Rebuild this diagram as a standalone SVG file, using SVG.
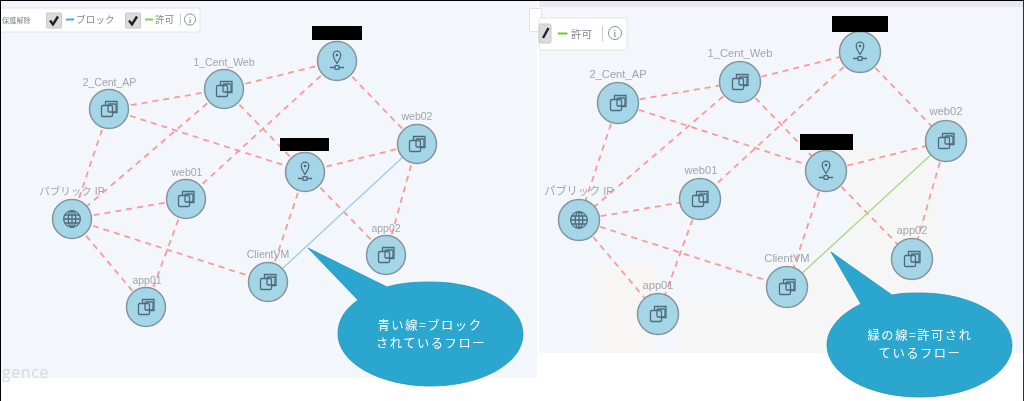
<svg xmlns="http://www.w3.org/2000/svg" width="1024" height="401" viewBox="0 0 1024 401">
<style>
.bg{fill:#f3f6fb}
.e{stroke:#fb9a98;stroke-width:1.8;stroke-dasharray:6 5;fill:none}
.n{fill:#a5d6e7;stroke:#87949c;stroke-width:1.5}
.i{fill:none;stroke:#4f6b7c;stroke-width:1.3}
.l{font-family:"Liberation Sans","Noto Sans CJK JP",sans-serif;fill:#a0a6ac;text-anchor:middle;font-size:10.5px}
.r{font-size:11.2px}
.t{font-family:"Noto Sans CJK JP","Noto Sans",sans-serif;fill:#808790;font-size:9.5px}
.c{font-family:"Noto Sans CJK JP",sans-serif;fill:#fff;text-anchor:middle;font-size:12.3px;letter-spacing:1.5px}
.call{fill:#29a6cf;stroke:#2a93b6;stroke-width:.8}
.lg{fill:#fff;stroke:#e0e4ea;stroke-width:1}
.cb{fill:#dcdcdc;stroke:#c8c8c8}
.ck{fill:none;stroke:#222;stroke-width:2.4}
.k{fill:#000}
</style>
<defs>
<filter id="soft" x="0" y="0" width="1024" height="401" filterUnits="userSpaceOnUse"><feGaussianBlur stdDeviation="0.45"/></filter>
<g id="vm" class="i"><path d="M-3.5 -4V-7.5H8V3.5H4"/><rect x="-1" y="-5" width="8" height="8" rx="1"/><rect x="-7.5" y="-3.5" width="11" height="11" rx="1.2"/></g>
<g id="pin" class="i"><path d="M0 2.5C-2 -1 -3.8 -3 -3.8 -6A3.8 3.8 0 0 1 3.8 -6C3.8 -3 2 -1 0 2.5Z"/><circle cx="0" cy="-6" r=".7"/><path d="M-7 6.5H-2M2 6.5H7"/><rect x="-2" y="4.7" width="4" height="3.6" rx=".6"/></g>
<g id="globe" class="i"><circle r="8.3"/><ellipse rx="3.8" ry="8.3"/><path d="M0 -8.3V8.3M-8.3 0H8.3M-7.3 -4H7.3M-7.3 4H7.3"/></g>
</defs>
<rect width="1024" height="401" fill="#fff"/>
<rect class="bg" x="1" y="1" width="536" height="377"/>
<rect class="bg" x="539" y="1" width="485" height="352"/>
<rect x="539" y="1" width="485" height="6" fill="#e6e9ee"/>
<g fill="#f6f6f7">
<rect x="847" y="150" width="94" height="110"/><rect x="781" y="260" width="150" height="93"/>
<rect x="680" y="300" width="110" height="53"/><rect x="593" y="265" width="62" height="88" fill="#f7f6f5"/>
</g>
<g filter="url(#soft)">
<text x="2" y="378" font-family="Open Sans,sans-serif" font-size="16" letter-spacing=".6" fill="#d5dae0">gence</text>

<g id="legend-left">
<rect class="lg" x="-4" y="8" width="204" height="24" rx="2"/>
<rect class="lg" x="529.500" y="8.500" width="12" height="23" rx="1"/>
<text class="t" x="2" y="22.500" style="font-size:7.200px">保護解除</text>
<rect class="cb" x="46.500" y="13" width="15" height="15" rx="1"/><path class="ck" d="M50 20.500l3 4 5-8"/>
<rect x="66" y="18.500" width="8" height="2" fill="#4da3dc"/>
<text class="t" x="76" y="23" letter-spacing=".2">ブロック</text>
<rect class="cb" x="125.500" y="13" width="15" height="15" rx="1"/><path class="ck" d="M129 20.500l3 4 5-8"/>
<rect x="145" y="18.500" width="8" height="2" fill="#7ed348"/>
<text class="t" x="155" y="23">許可</text>
<path d="M180.500 14V25" stroke="#c8cdd2"/>
<circle cx="190" cy="19.500" r="5.600" fill="none" stroke="#8a9096"/>
<text x="190" y="23" font-family="Liberation Serif,serif" font-size="9" fill="#70767c" text-anchor="middle">i</text>
</g>

<g id="connectors-left">
<path class="e" d="M109 109L224 89"/><path class="e" d="M109 109L305 172"/><path class="e" d="M109 109L72 219"/>
<path class="e" d="M224 89L337 61"/><path class="e" d="M224 89L72 219"/><path class="e" d="M224 89L305 172"/>
<path class="e" d="M337 61L186 199"/><path class="e" d="M337 61L417 144"/><path class="e" d="M305 172L417 144"/>
<path class="e" d="M305 172L268 282"/><path class="e" d="M305 172L386 255"/><path class="e" d="M417 144L386 255"/>
<path d="M417 144L268 282" stroke="#a3cde6" stroke-width="1.400" fill="none"/>
<path class="e" d="M72 219L186 199"/><path class="e" d="M72 219L268 282"/><path class="e" d="M72 219L146 307"/><path class="e" d="M186 199L146 307"/>
</g>
<g id="l-2cent"><circle class="n" cx="109" cy="109" r="19.500"/><use href="#vm" x="109" y="109"/><text class="l" x="109.500" y="86">2_Cent_AP</text></g>
<g id="l-1cent"><circle class="n" cx="224" cy="89" r="19.500"/><use href="#vm" x="224" y="89"/><text class="l" x="224" y="66">1_Cent_Web</text></g>
<g id="l-top"><circle class="n" cx="337" cy="61" r="19.500"/><use href="#pin" x="337" y="61"/></g>
<g id="l-web02"><circle class="n" cx="417" cy="144" r="19.500"/><use href="#vm" x="417" y="144"/><text class="l" x="417" y="120">web02</text></g>
<g id="l-mid"><circle class="n" cx="305" cy="172" r="19.500"/><use href="#pin" x="305" y="172"/></g>
<g id="l-public"><circle class="n" cx="72" cy="219" r="19.500"/><use href="#globe" x="72" y="219"/><text class="l" x="72" y="195">パブリック IP</text></g>
<g id="l-web01"><circle class="n" cx="186" cy="199" r="19.500"/><use href="#vm" x="186" y="199"/><text class="l" x="187" y="176">web01</text></g>
<g id="l-app01"><circle class="n" cx="146" cy="307" r="19.500"/><use href="#vm" x="146" y="307"/><text class="l" x="147" y="284">app01</text></g>
<g id="l-client"><circle class="n" cx="268" cy="282" r="19.500"/><use href="#vm" x="268" y="282"/><text class="l" x="268" y="258">ClientVM</text></g>
<g id="l-app02"><circle class="n" cx="386" cy="255" r="19.500"/><use href="#vm" x="386" y="255"/><text class="l" x="386" y="232">app02</text></g>

<g id="legend-right">
<rect class="lg" x="539" y="18" width="88" height="32" rx="2"/>
<rect class="cb" x="539" y="24" width="12" height="19" rx="1.500"/><path class="ck" d="M543 38l5.500-10" stroke-width="3"/>
<rect x="558" y="32.500" width="9.500" height="2" fill="#6fc92e"/>
<text class="t" x="571" y="37.500" style="font-size:10.500px">許可</text>
<path d="M602.500 26V41" stroke="#c8cdd2"/>
<circle cx="615" cy="33" r="6.500" fill="none" stroke="#8a9096"/>
<text x="615" y="37" font-family="Liberation Serif,serif" font-size="10" fill="#70767c" text-anchor="middle">i</text>
</g>

<g id="connectors-right">
<path class="e" d="M618 103L740 82"/><path class="e" d="M618 103L826 171"/><path class="e" d="M618 103L579 220"/>
<path class="e" d="M740 82L860 52"/><path class="e" d="M740 82L579 220"/><path class="e" d="M740 82L826 171"/>
<path class="e" d="M860 52L700 199"/><path class="e" d="M860 52L946 141"/><path class="e" d="M826 171L946 141"/>
<path class="e" d="M826 171L787 287"/><path class="e" d="M826 171L912 259"/><path class="e" d="M946 141L912 259"/>
<path d="M946 141L787 287" stroke="#a8d98e" stroke-width="1.400" fill="none"/>
<path class="e" d="M579 220L700 199"/><path class="e" d="M579 220L787 287"/><path class="e" d="M579 220L658 314"/><path class="e" d="M700 199L658 314"/>
</g>
<g id="r-2cent"><circle class="n" cx="618" cy="103" r="20.500"/><use href="#vm" x="618" y="103"/><text class="l r" x="618" y="78">2_Cent_AP</text></g>
<g id="r-1cent"><circle class="n" cx="740" cy="82" r="20.500"/><use href="#vm" x="740" y="82"/><text class="l r" x="740" y="57">1_Cent_Web</text></g>
<g id="r-top"><circle class="n" cx="860" cy="52" r="20.500"/><use href="#pin" x="860" y="52"/></g>
<g id="r-web02"><circle class="n" cx="946" cy="141" r="20.500"/><use href="#vm" x="946" y="141"/><text class="l r" x="946" y="115">web02</text></g>
<g id="r-mid"><circle class="n" cx="826" cy="171" r="20.500"/><use href="#pin" x="826" y="171"/></g>
<g id="r-public"><circle class="n" cx="579" cy="220" r="20.500"/><use href="#globe" x="579" y="220"/><text class="l r" x="579" y="195">パブリック IP</text></g>
<g id="r-web01"><circle class="n" cx="700" cy="199" r="20.500"/><use href="#vm" x="700" y="199"/><text class="l r" x="701" y="174">web01</text></g>
<g id="r-app01"><circle class="n" cx="658" cy="314" r="20.500"/><use href="#vm" x="658" y="314"/><text class="l r" x="658" y="289">app01</text></g>
<g id="r-client"><circle class="n" cx="787" cy="287" r="20.500"/><use href="#vm" x="787" y="287"/><text class="l r" x="787" y="262">ClientVM</text></g>
<g id="r-app02"><circle class="n" cx="912" cy="259" r="20.500"/><use href="#vm" x="912" y="259"/><text class="l r" x="912" y="234">app02</text></g>

<g id="callout-left">
<path class="call" d="M308 248L387 287C400 283 415 282 431 282C482 282 523 305 523 334C523 363 482 386 431 386C380 386 338 363 338 334C338 320 345 309 358 300Z"/>
<text class="c"><tspan x="430" y="329.500">青い線=ブロック</tspan><tspan x="431" y="347.500">されているフロー</tspan></text>
</g>
<g id="callout-right">
<path class="call" d="M831 252L892 295C902 293 910 293 920 293C971 293 1012 316 1012 345C1012 374 971 397 920 397C868 397 827 374 827 345C827 329 840 314 861 304Z"/>
<text class="c"><tspan x="920" y="340">緑の線=許可され</tspan><tspan x="920" y="358">ているフロー</tspan></text>
</g>
</g>
<rect class="k" x="312" y="26" width="50" height="14"/>
<rect class="k" x="280" y="138" width="49" height="13"/>
<rect class="k" x="832" y="16" width="56" height="16"/>
<rect class="k" x="800" y="134" width="53" height="16"/>
<rect class="k" x="0" y="0" width="1024" height="1"/>
<rect class="k" x="0" y="0" width="1" height="401"/>
<rect class="k" x="1023.200" y="0" width=".8" height="401"/>
</svg>
